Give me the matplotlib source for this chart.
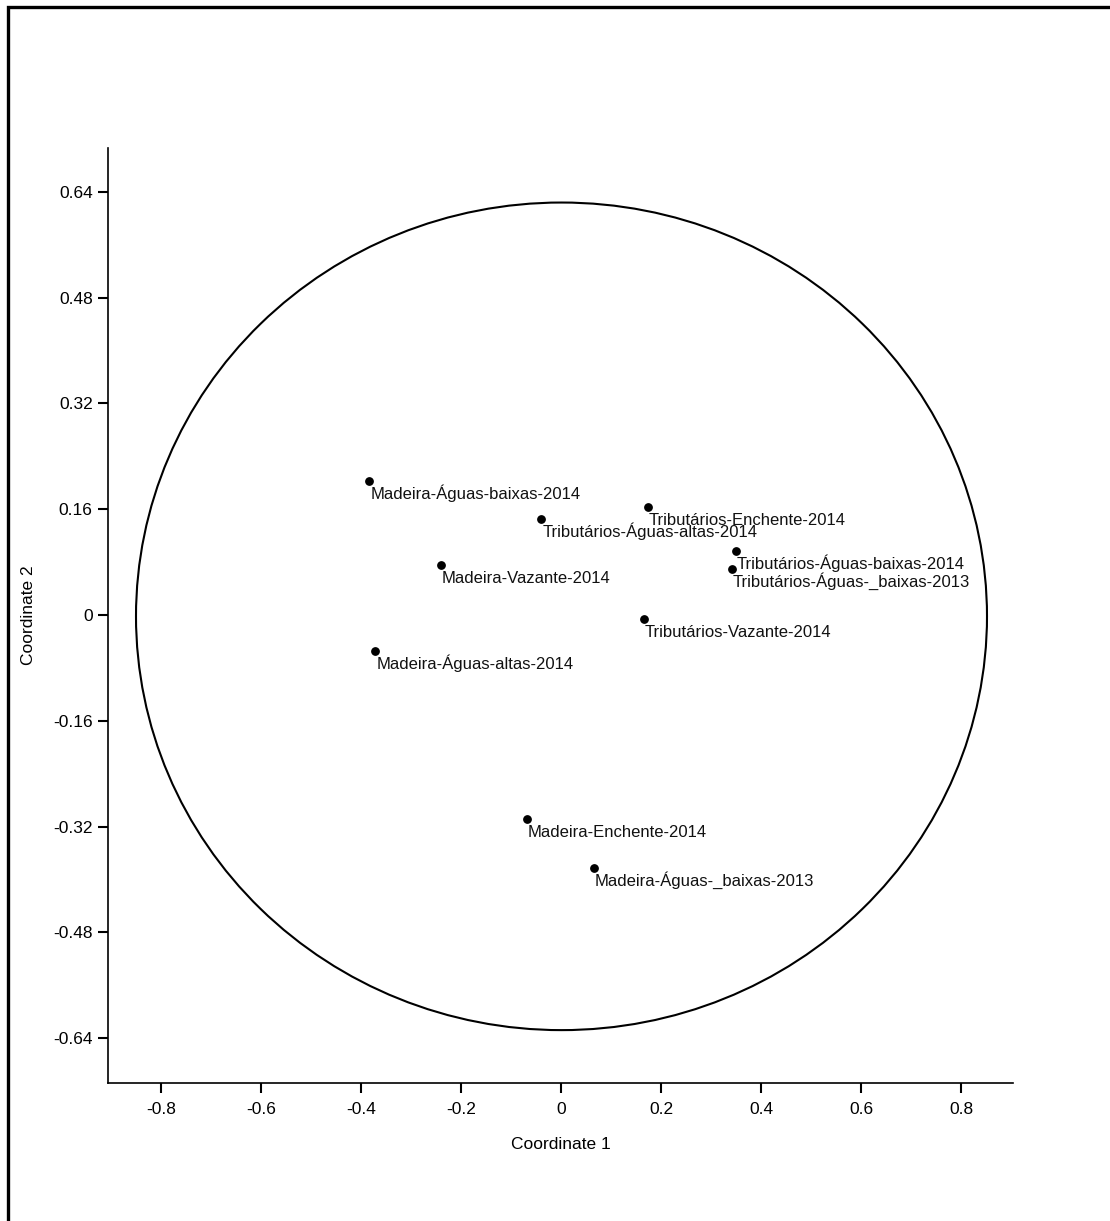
import matplotlib.pyplot as plt
from matplotlib.patches import Ellipse, Rectangle
import numpy as np

plt.rcParams['font.family'] = ['Liberation Sans', 'DejaVu Sans']

# PCoA sample scores
labels = [
    "Madeira-Águas-baixas-2014",
    "Tributários-Enchente-2014",
    "Tributários-Águas-altas-2014",
    "Madeira-Vazante-2014",
    "Tributários-Águas-baixas-2014",
    "Tributários-Águas-_baixas-2013",
    "Tributários-Vazante-2014",
    "Madeira-Águas-altas-2014",
    "Madeira-Enchente-2014",
    "Madeira-Águas-_baixas-2013",
]
coord1 = [-0.384, 0.173, -0.040, -0.241, 0.349, 0.341, 0.165, -0.372, -0.069, 0.065]
coord2 = [0.203, 0.164, 0.145, 0.076, 0.097, 0.070, -0.006, -0.054, -0.309, -0.383]

# 95% ellipse
ell_center = (0.001, -0.002)
ell_width = 1.702
ell_height = 1.252

xticks = [-0.8, -0.6, -0.4, -0.2, 0, 0.2, 0.4, 0.6, 0.8]
xticklabels = ["-0.8", "-0.6", "-0.4", "-0.2", "0", "0.2", "0.4", "0.6", "0.8"]
yticks = [-0.64, -0.48, -0.32, -0.16, 0, 0.16, 0.32, 0.48, 0.64]
yticklabels = ["-0.64", "-0.48", "-0.32", "-0.16", "0", "0.16", "0.32", "0.48", "0.64"]

W, H = 1110, 1221
fig = plt.figure(figsize=(W / 100, H / 100), dpi=100)
ax = fig.add_axes([108 / W, 138 / H, (1013 - 108) / W, (1083 - 148) / H])

# outer frame, runs off the right and bottom edge
fig.patches.append(Rectangle((7.5 / W, -0.1), 1.2, 1 - 6.5 / H + 0.1,
                             transform=fig.transFigure, fill=False,
                             edgecolor='black', linewidth=2.4, clip_on=False))

ax.add_patch(Ellipse(ell_center, ell_width, ell_height, fill=False,
                     edgecolor='black', linewidth=1.5))

ax.scatter(coord1, coord2, s=28, color='black', zorder=3)
for x, y, lab in zip(coord1, coord2, labels):
    ax.annotate(lab, (x, y), xytext=(1.5, -18), textcoords='offset pixels',
                ha='left', va='baseline', fontsize=12, color='#111111')

ax.set_xlim(-0.906, 0.904)
ax.set_ylim(-0.708, 0.7065)
ax.set_xticks(xticks)
ax.set_xticklabels(xticklabels)
ax.set_yticks(yticks)
ax.set_yticklabels(yticklabels)

for side in ('top', 'right'):
    ax.spines[side].set_visible(False)
for side in ('left', 'bottom'):
    ax.spines[side].set_linewidth(1.2)
ax.tick_params(direction='out', length=7, width=1.5, labelsize=12.5, pad=4)
ax.tick_params(axis='x', pad=7)

ax.set_xlabel("Coordinate 1", fontsize=12.5, labelpad=14)
ax.set_ylabel("Coordinate 2", fontsize=12.5, labelpad=12)

fig.savefig("out.png", dpi=100)
